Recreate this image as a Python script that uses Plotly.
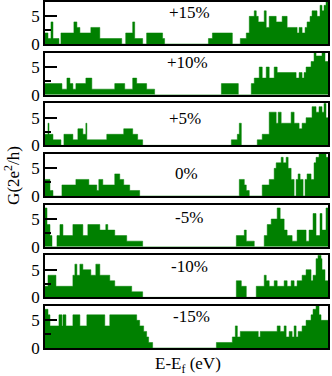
import plotly.graph_objects as go
from plotly.subplots import make_subplots

# strain labels, top to bottom
strains = ['+15%', '+10%', '+5%', '0%', '-5%', '-10%', '-15%']

# energy (eV) where each conductance step starts, and G (2e^2/h) on that step
e_p15 = [-1.42, -1.39, -1.36, -1.34, -1.28, -1.26, -1.13, -1.10, -1.07, -0.96, -0.87, -0.65, -0.61, -0.54, -0.52, -0.44,
         -0.40, -0.24, -0.22, 0.22, 0.26, 0.46, 0.54, 0.60, 0.63, 0.68, 0.70, 0.72, 0.78, 0.80, 0.83, 0.90, 0.96, 1.01,
         1.11, 1.13, 1.16, 1.19, 1.21, 1.24, 1.26, 1.31, 1.34, 1.36, 1.38, 1.40]
g_p15 = [2, 1, 4, 1, 0, 2, 4, 3, 2, 3, 1, 0, 2, 4, 1, 0, 2, 1, 0, 1, 2, 0, 1, 2, 5, 6, 5, 4, 6, 3, 5, 4, 5, 3, 2, 3, 2,
         3, 4, 5, 6, 5, 7, 6, 7, 8]

e_p10 = [-1.42, -1.25, -1.20, -1.17, -1.14, -1.11, -1.01, -0.95, -0.72, -0.62, -0.54, -0.50, -0.40, -0.32, 0.35, 0.52,
         0.65, 0.68, 0.73, 0.76, 0.80, 0.83, 0.88, 0.91, 1.10, 1.13, 1.16, 1.18, 1.20, 1.25, 1.28, 1.30, 1.36, 1.39]
g_p10 = [2, 1, 3, 2, 1, 2, 3, 1, 2, 1, 3, 2, 1, 0, 2, 0, 2, 3, 5, 3, 5, 3, 5, 4, 3, 4, 3, 4, 5, 6, 8, 7, 8, 6]

e_p5 = [-1.42, -1.39, -1.38, -1.34, -1.26, -1.23, -1.14, -1.09, -1.04, -1.01, -1.00, -0.80, -0.63, -0.54, -0.49, -0.44,
        0.45, 0.51, 0.53, 0.55, 0.71, 0.76, 0.83, 0.90, 0.92, 0.95, 1.05, 1.08, 1.13, 1.16, 1.20, 1.26, 1.30, 1.33, 1.36,
        1.38, 1.40]
g_p5 = [2, 4, 2, 1, 0, 2, 1, 3, 2, 4, 1, 2, 3, 2, 1, 0, 1, 2, 4, 0, 1, 2, 6, 4, 6, 4, 6, 4, 3, 4, 5, 7, 6, 7, 6, 8, 5]

e_0 = [-1.42, -1.37, -1.34, -1.25, -1.11, -0.98, -0.90, -0.88, -0.84, -0.72, -0.67, -0.63, -0.57, -0.47, 0.53, 0.58,
       0.60, 0.63, 0.76, 0.83, 0.88, 0.90, 0.95, 0.97, 1.00, 1.02, 1.05, 1.08, 1.10, 1.12, 1.14, 1.17, 1.19, 1.21, 1.25,
       1.28, 1.30, 1.33, 1.40]
g_0 = [3, 1, 0, 2, 3, 2, 1, 3, 2, 4, 3, 2, 1, 0, 3, 2, 1, 0, 2, 3, 5, 6, 7, 6, 7, 5, 3, 0, 3, 4, 3, 0, 3, 4, 3, 6, 7,
       8, 7]

e_m5 = [-1.42, -1.40, -1.37, -1.35, -1.30, -1.27, -1.24, -1.14, -1.04, -0.99, -0.87, -0.81, -0.79, -0.72, -0.60, -0.44,
        0.50, 0.58, 0.60, 0.68, 0.78, 0.81, 0.85, 0.91, 0.94, 0.98, 1.01, 1.06, 1.11, 1.20, 1.23, 1.27, 1.30, 1.34, 1.36,
        1.40]
g_m5 = [7, 4, 2, 0, 2, 4, 2, 4, 2, 4, 3, 4, 3, 2, 1, 0, 2, 3, 1, 0, 2, 4, 5, 7, 5, 3, 2, 1, 3, 1, 3, 6, 2, 6, 3, 7]

e_m10 = [-1.42, -1.39, -1.31, -1.14, -1.12, -1.10, -1.07, -1.04, -0.96, -0.91, -0.87, -0.77, -0.72, -0.55, -0.44, 0.50,
         0.55, 0.60, 0.70, 0.78, 0.80, 0.83, 0.88, 0.91, 0.98, 1.01, 1.05, 1.08, 1.11, 1.16, 1.20, 1.25, 1.27, 1.30,
         1.32, 1.35, 1.36, 1.39]
g_m10 = [2, 4, 2, 4, 6, 4, 6, 5, 4, 6, 4, 3, 2, 1, 0, 3, 2, 0, 2, 4, 3, 2, 3, 2, 3, 2, 3, 2, 3, 4, 5, 3, 4, 7, 8, 7,
         5, 3]

e_m15 = [-1.42, -1.39, -1.37, -1.28, -1.25, -1.24, -1.21, -1.14, -1.07, -1.00, -0.82, -0.77, -0.50, -0.47, -0.43, -0.40,
         -0.38, -0.34, 0.30, 0.46, 0.49, 0.51, 0.54, 0.72, 0.74, 0.91, 0.94, 0.98, 1.00, 1.03, 1.06, 1.08, 1.10, 1.12,
         1.16, 1.20, 1.25, 1.27, 1.30, 1.33, 1.35]
g_m15 = [7, 6, 4, 6, 4, 6, 4, 6, 4, 6, 4, 6, 5, 4, 3, 2, 1, 0, 1, 2, 4, 2, 3, 2, 3, 4, 3, 4, 2, 3, 2, 4, 2, 3, 4, 5, 6,
         7, 8, 6, 5]

e_end = 1.42
panels = [(e_p15, g_p15), (e_p10, g_p10), (e_p5, g_p5), (e_0, g_0), (e_m5, g_m5), (e_m10, g_m10), (e_m15, g_m15)]

# where each strain label sits inside its panel (domain units)
label_x = [0.512, 0.504, 0.495, 0.50, 0.509, 0.509, 0.518]
label_y = [0.75, 0.76, 0.64, 0.54, 0.69, 0.74, 0.76]

serif = 'Liberation Serif, Times New Roman, serif'
green = '#008000'

fig = make_subplots(rows=7, cols=1, shared_xaxes=True, vertical_spacing=0.025)

for i, (e, g) in enumerate(panels):
    r = i + 1
    fig.add_trace(go.Scatter(
        x=e + [e_end], y=g + [g[-1]], mode='lines', line_shape='hv',
        line=dict(color=green, width=0.5), fill='tozeroy', fillcolor=green,
        showlegend=False), row=r, col=1)
    fig.update_yaxes(
        range=[0, 7.6], tickvals=[0, 5], ticks='inside', ticklen=12, tickwidth=1.5, tickcolor='black',
        minor=dict(tickvals=[2.5, 7.5], ticks='inside', ticklen=6, tickwidth=1.5, tickcolor='black'),
        showline=True, mirror=True, linecolor='black', linewidth=1.5, showgrid=False, zeroline=False,
        tickfont=dict(family=serif, size=17, color='black'), automargin=False, row=r, col=1)
    fig.update_xaxes(
        range=[-1.42, 1.42], showticklabels=False, ticks='', showline=True, mirror=True,
        linecolor='black', linewidth=1.5, showgrid=False, zeroline=False, automargin=False, row=r, col=1)
    sfx = '' if r == 1 else str(r)
    fig.add_annotation(text=strains[i], x=label_x[i], y=label_y[i], xref=f'x{sfx} domain', yref=f'y{sfx} domain',
                       xanchor='center', yanchor='middle', showarrow=False,
                       font=dict(family=serif, size=17, color='black'))

fig.add_annotation(text='G(2e<sup>2</sup>/h)', x=-0.117, y=0.5, xref='paper', yref='paper', textangle=-90,
                   xanchor='center', yanchor='middle', showarrow=False,
                   font=dict(family=serif, size=17, color='black'))
fig.add_annotation(text='E-E<sub>f</sub> (eV)', x=0.505, y=-0.05, xref='paper', yref='paper',
                   xanchor='center', yanchor='middle', showarrow=False,
                   font=dict(family=serif, size=17, color='black'))

fig.update_layout(width=332, height=376, margin=dict(l=45, r=4, t=2, b=28),
                  plot_bgcolor='white', paper_bgcolor='white')

# drop the default 8px page margin so the figure sits at the window corner
fig.write_html('out.html', config={'displayModeBar': False},
               post_script="document.body.style.margin='0';")
